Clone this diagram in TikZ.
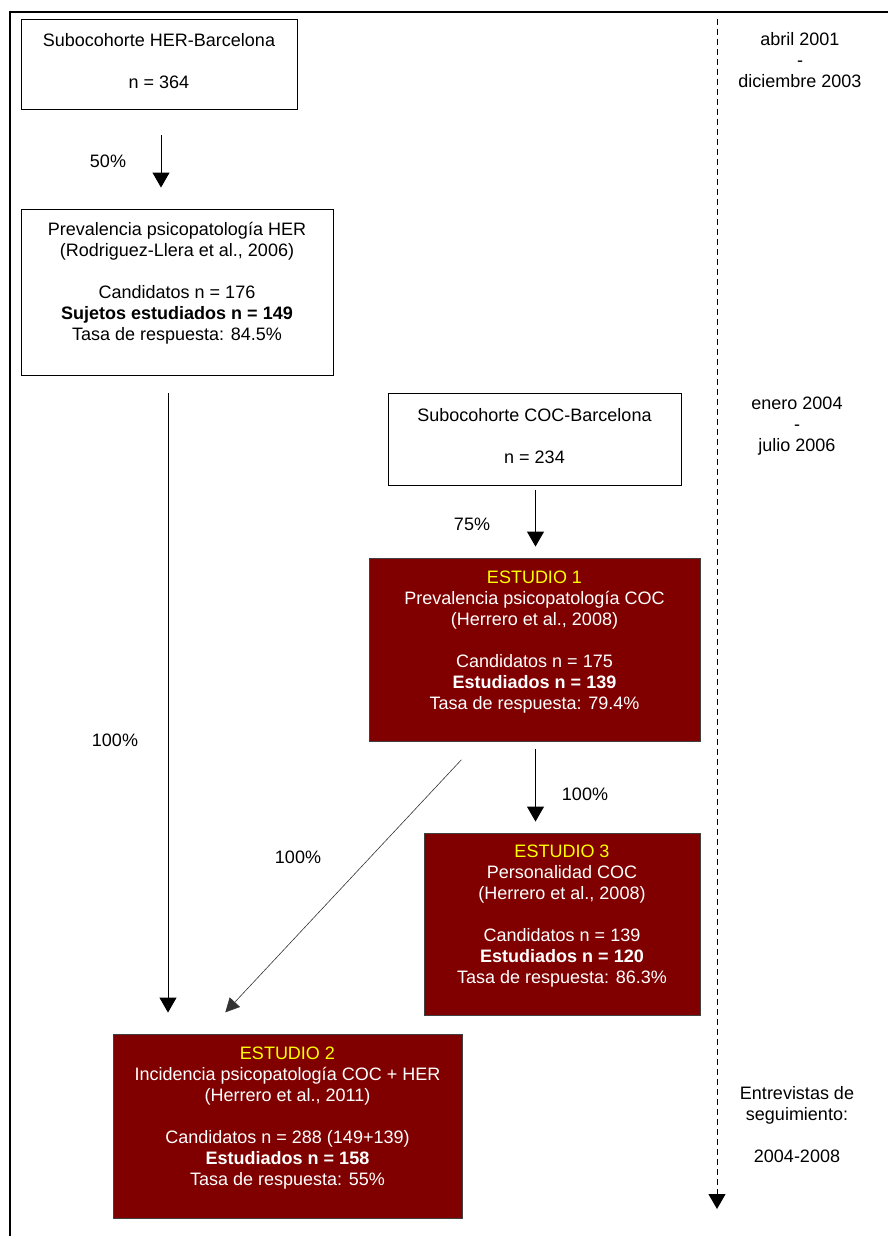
\documentclass[tikz,border=0pt]{standalone}
\usepackage{fontspec}
\setmainfont{Liberation Sans}
\usetikzlibrary{arrows.meta}
\definecolor{studyred}{HTML}{800000}
\definecolor{studyyellow}{HTML}{FFFF00}

\begin{document}
\begin{tikzpicture}[x=1pt, y=-1pt,
    font=\fontsize{18}{21}\selectfont,
    whitebox/.style={draw=black, line width=0.9pt, fill=white, align=center, inner sep=0pt},
    studybox/.style={draw=black!75, line width=0.9pt, fill=studyred, text=white, align=center, inner sep=0pt, text depth=19pt},
    flow/.style={line width=1pt, -{Triangle[width=17pt, length=15pt]}},
    slanted/.style={line width=0.6pt, draw=black!80, -{Triangle[width=14pt, length=14pt]}},
    title/.style={text=studyyellow}]
    \useasboundingbox (0, 0) rectangle (888, 1236);
    \draw[line width=1.2pt] (888, 12) -- (10, 12) -- (10, 1236);

    \node[whitebox, minimum width=276pt, minimum height=90pt, text depth=7pt] (her) at (159, 64) {Subocohorte HER-Barcelona\\[21pt]n = 364};
    \node[whitebox, minimum width=312pt, minimum height=166pt, text depth=22pt] (prevher) at (177, 292) {Prevalencia psicopatología HER\\(Rodriguez-Llera et al., 2006)\\[21pt]Candidatos n = 176\\\textbf{Sujetos estudiados n = 149}\\Tasa de respuesta: 84.5\%};
    \node[whitebox, minimum width=293pt, minimum height=92pt, text depth=7pt] (coc) at (534.5, 439) {Subocohorte COC-Barcelona\\[21pt]n = 234};
    \node[studybox, minimum width=331pt, minimum height=183pt] (est1) at (534.5, 649.5) {\textcolor{studyyellow}{ESTUDIO 1}\\Prevalencia psicopatología COC\\(Herrero et al., 2008)\\[21pt]Candidatos n = 175\\\textbf{Estudiados n = 139}\\Tasa de respuesta: 79.4\%};
    \node[studybox, minimum width=276pt, minimum height=182pt] (est3) at (562, 924) {\textcolor{studyyellow}{ESTUDIO 3}\\Personalidad COC\\(Herrero et al., 2008)\\[21pt]Candidatos n = 139\\\textbf{Estudiados n = 120}\\Tasa de respuesta: 86.3\%};
    \node[studybox, minimum width=349pt, minimum height=184pt] (est2) at (287.5, 1126) {\textcolor{studyyellow}{ESTUDIO 2}\\Incidencia psicopatología COC + HER\\(Herrero et al., 2011)\\[21pt]Candidatos n = 288 (149+139)\\\textbf{Estudiados n = 158}\\Tasa de respuesta: 55\%};

    \node[align=center] (date1) at (800, 60) {abril 2001\\-\\diciembre 2003};
    \node[align=center] (date2) at (797, 426) {enero 2004\\-\\julio 2006};
    \node[align=center] (date3) at (797, 1125) {Entrevistas de\\seguimiento:\\[21pt]2004-2008};

    \node (p50) at (108, 161) {50\%};
    \node (p100her) at (115, 740) {100\%};
    \node (p75) at (472, 524) {75\%};
    \node (p100est3) at (585, 794) {100\%};
    \node (p100est2) at (298, 857) {100\%};

    \coordinate (tlstart) at (717, 19);
    \coordinate (tlend) at (717, 1209);

    \draw[flow, shorten <=26pt, shorten >=21pt] ([xshift=2pt]her.south) -- ([xshift=2pt]her.south |- prevher.north);
    \draw[flow, shorten <=18pt, shorten >=21pt] ([xshift=-9pt]prevher.south) -- ([xshift=-9pt]prevher.south |- est2.north);
    \draw[flow, shorten <=5pt, shorten >=11pt] ([xshift=1pt]coc.south) -- ([xshift=1pt]coc.south |- est1.north);
    \draw[flow, shorten <=8pt, shorten >=11pt] ([xshift=1pt]est1.south) -- ([xshift=1pt]est1.south |- est3.north);
    \draw[slanted, shorten <=25pt, shorten >=29pt] ([xshift=-56pt]est1.south) -- ([xshift=-82pt]est2.north);
    \draw[flow, dash pattern=on 6pt off 4pt] (tlstart) -- (tlend);
\end{tikzpicture}
\end{document}
